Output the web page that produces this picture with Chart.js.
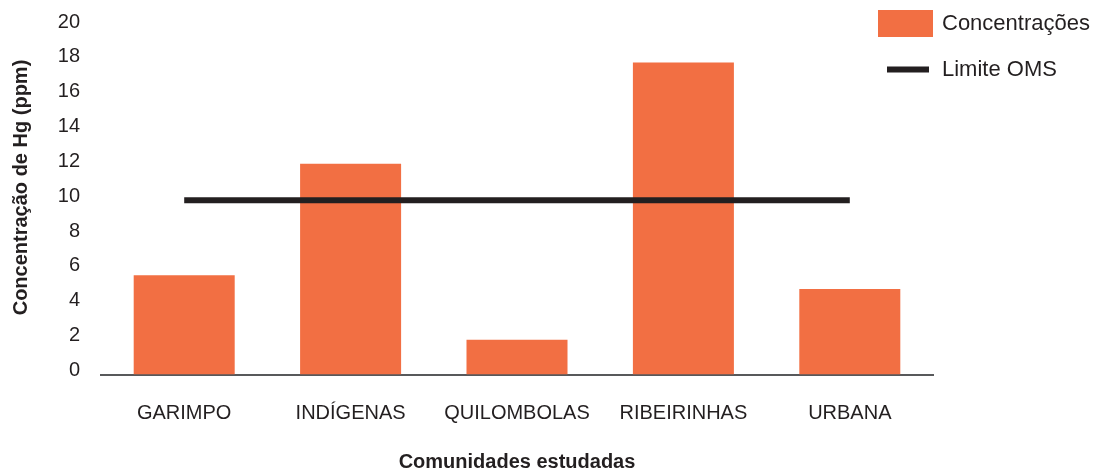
<!DOCTYPE html>
<html>
<head>
<meta charset="utf-8">
<script src="https://cdn.jsdelivr.net/npm/chart.js@4/dist/chart.umd.min.js"></script>
<style>
  html, body { margin: 0; padding: 0; background: #fff; }
  #wrap { width: 1099px; height: 472px; }
</style>
</head>
<body>
<div id="wrap"><canvas id="myChart" width="1099" height="472"></canvas></div>
<script>
// カテゴリ
const comunidades = ['GARIMPO', 'INDÍGENAS', 'QUILOMBOLAS', 'RIBEIRINHAS', 'URBANA'];
// 濃度 (ppm)
const concentracoes = [5.7, 12.1, 2.0, 17.9, 4.9];
// OMS の上限
const limiteOMS = [10, 10, 10, 10, 10];
// 目盛り
const yMin = 0;
const yMax = 20;
const yStep = 2;

const corBarra = '#f26f43';
const corTexto = '#231f20';
const fonte = '"Liberation Sans", Arial, sans-serif';

// 凡例と縦軸タイトルを手で描く
const extrasPlugin = {
  id: 'extras',
  afterDraw(chart) {
    const ctx = chart.ctx;
    const right = chart.chartArea.right;
    ctx.save();
    ctx.fillStyle = corBarra;
    ctx.fillRect(right - 55, 10, 55, 27);
    ctx.strokeStyle = corTexto;
    ctx.lineWidth = 6;
    ctx.beginPath();
    ctx.moveTo(right - 46, 69.5);
    ctx.lineTo(right - 4, 69.5);
    ctx.stroke();
    ctx.fillStyle = corTexto;
    ctx.font = '22px ' + fonte;
    ctx.textBaseline = 'middle';
    ctx.fillText(chart.data.datasets[0].label, right + 9, 24);
    ctx.fillText(chart.data.datasets[1].label, right + 9, 70);

    // 縦軸タイトル
    ctx.translate(21.5, 187.5);
    ctx.rotate(-Math.PI / 2);
    ctx.font = 'bold 20px ' + fonte;
    ctx.textAlign = 'center';
    ctx.fillText('Concentração de Hg (ppm)', 0, 0);
    ctx.restore();
  }
};

const ctx = document.getElementById('myChart').getContext('2d');
const chart = new Chart(ctx, {
  data: {
    labels: comunidades,
    datasets: [
      {
        type: 'bar',
        label: 'Concentrações',
        data: concentracoes,
        backgroundColor: corBarra,
        borderWidth: 0,
        categoryPercentage: 1,
        barPercentage: 0.607,
        order: 2,
      },
      {
        type: 'line',
        label: 'Limite OMS',
        data: limiteOMS,
        borderColor: corTexto,
        borderWidth: 6,
        borderCapStyle: 'butt',
        pointRadius: 0,
        fill: false,
        order: 1,
      },
    ],
  },
  options: {
    responsive: false,
    animation: false,
    layout: { padding: { top: 26, right: 166, left: 0, bottom: 0 } },
    plugins: {
      legend: { display: false },
      tooltip: { enabled: false },
    },
    scales: {
      x: {
        grid: { display: false, drawTicks: false },
        border: { display: true, color: '#58595b', width: 2 },
        ticks: {
          color: corTexto,
          padding: 27,
          maxRotation: 0,
          font: { family: fonte, size: 20 },
        },
        title: {
          display: true,
          text: 'Comunidades estudadas',
          color: corTexto,
          padding: { top: 0, bottom: 0 },
          font: { family: fonte, size: 20, weight: 'bold', lineHeight: 1 },
        },
        afterFit(scale) { scale.height = 97.5; },
      },
      y: {
        min: yMin,
        max: yMax,
        grid: { display: false, drawTicks: false },
        border: { display: false },
        ticks: {
          stepSize: yStep,
          color: corTexto,
          padding: 21,
          labelOffset: -4,
          font: { family: fonte, size: 20 },
        },
        afterFit(scale) {
          scale.width = 101;
          scale.paddingTop = 0;
          scale.paddingBottom = 0;
        },
      },
    },
  },
  plugins: [extrasPlugin],
});
</script>
</body>
</html>
